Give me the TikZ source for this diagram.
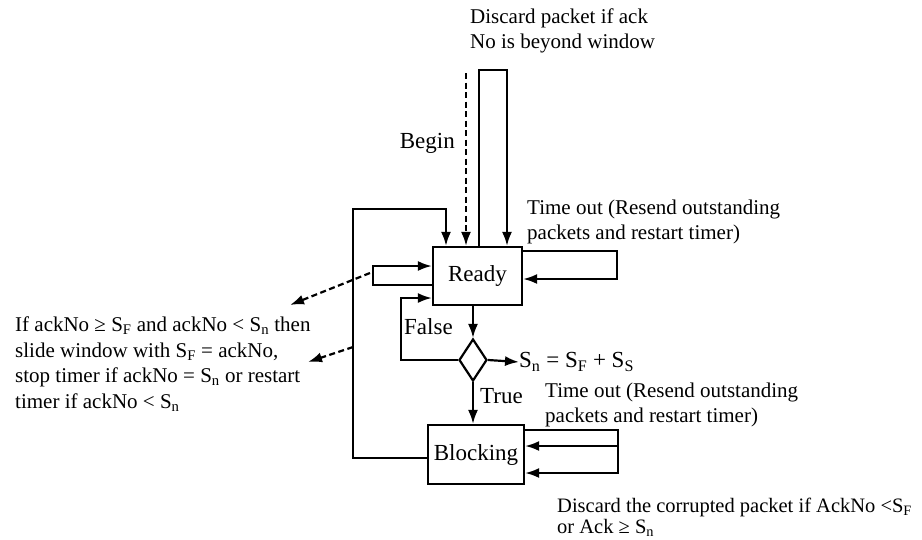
\documentclass[tikz,border=0pt]{standalone}
\usepackage{fontspec}
\setmainfont{Liberation Serif}
\usetikzlibrary{arrows.meta,shapes.geometric}
\newcommand{\sbs}[1]{\textsubscript{#1}}
\begin{document}
\begin{tikzpicture}[x=1pt,y=-1pt,
  txt/.style={inner sep=0pt,align=left,font=\fontsize{21}{25}\selectfont},
  lbl/.style={inner sep=0pt,font=\fontsize{23}{26}\selectfont},
  state/.style={draw,line width=2.2pt,inner sep=0pt,font=\fontsize{23}{26}\selectfont},
  arr/.style={line width=2.2pt,-{Latex[length=14pt,width=10pt]}},
  dsh/.style={dash pattern=on 6pt off 3.5pt}]
\useasboundingbox[fill=white] (0,0) rectangle (922,539);
% states
\node[state,minimum width=89pt,minimum height=58pt] (ready) at (477.5,276) {Ready};
\node[state,minimum width=96pt,minimum height=59pt] (blocking) at (476,454.5) {Blocking};
\node[draw,line width=2.2pt,diamond,inner sep=0pt,minimum width=28pt,minimum height=42pt] (dia) at (473,360) {};
% texts
\node[txt,anchor=west] (discard) at (470,31) {Discard packet if ack\\No is beyond window};
\node[lbl,anchor=east] (begin) at (455,143) {Begin};
\node[txt,anchor=west] (tout1) at (527,222) {Time out (Resend outstanding\\packets and restart timer)};
\node[txt,anchor=west,font=\fontsize{21}{25.5}\selectfont] (iftxt) at (15,364) {If ackNo ≥ S\sbs{F} and ackNo < S\sbs{n} then\\slide window with S\sbs{F} = ackNo,\\stop timer if ackNo = S\sbs{n} or restart\\timer if ackNo < S\sbs{n}};
\node[lbl,anchor=west] (false) at (404,327) {False};
\node[lbl,anchor=west] (sn) at (519,362) {S\sbs{n} = S\sbs{F} + S\sbs{S}};
\node[lbl,anchor=west] (true) at (480,396) {True};
\node[txt,anchor=west] (tout2) at (545,405) {Time out (Resend outstanding\\packets and restart timer)};
\node[txt,anchor=west,font=\fontsize{20.5}{21}\selectfont] (disc2) at (557,517) {Discard the corrupted packet if AckNo <S\sbs{F}\\or Ack ≥ S\sbs{n}};
% coordinates
\coordinate (beginTop) at (466,73);
\coordinate (bigL) at (353,209);
\coordinate (discTop) at (507,70);
\coordinate (rR) at (617,279);
\coordinate (rL) at (373,266);
\coordinate (fL) at (401,298);
\coordinate (bR) at (618,473);
\coordinate (bRm) at (618,446);
\coordinate (d1s) at (370,273);
\coordinate (d1e) at (290,305);
\coordinate (d2s) at (353,347);
\coordinate (d2e) at (308,362);
% connectors
\draw[arr] ([yshift=-3.5pt]blocking.west) -| (bigL) -| ([xshift=-31.5pt]ready.north);
\draw[arr,dsh] (beginTop) -- (beginTop |- ready.north);
\draw[arr] ([xshift=1.5pt]ready.north) |- (discTop) -- (discTop |- ready.north);
\draw[arr] ([yshift=25pt]ready.east) -| (rR) -- (rR -| ready.east);
\draw[arr] ([yshift=-9pt]ready.west) -| (rL) -- (rL -| ready.west);
\draw[arr] (dia.west) -| (fL) -- (fL -| ready.west);
\draw[arr] (dia.north |- ready.south) -- (dia.north);
\draw[arr] (dia.south) -- (dia.south |- blocking.north);
\draw[arr] (dia.east) -- (sn.west);
\draw[arr] ([yshift=24.5pt]blocking.east) -| (bR) -- (bR -| blocking.east);
\draw[arr] (bRm) -- (bRm -| blocking.east);
\draw[arr,dsh] (d1s) -- (d1e);
\draw[arr,dsh] (d2s) -- (d2e);
\end{tikzpicture}
\end{document}
